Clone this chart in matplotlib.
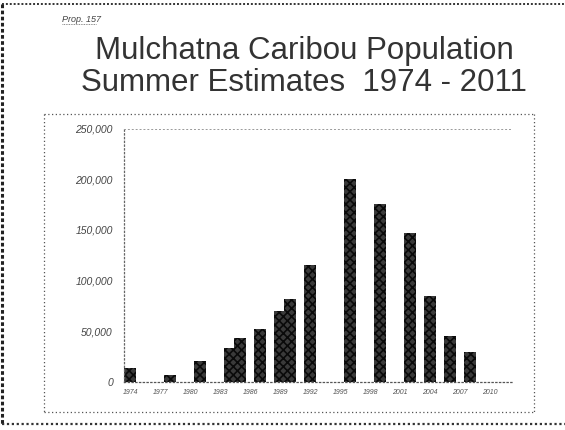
import numpy as np
import matplotlib
matplotlib.use('Agg')
import matplotlib.pyplot as plt
from matplotlib.lines import Line2D

# Mulchatna caribou summer population estimates
years = [1974, 1978, 1981, 1984, 1985, 1987, 1989, 1990, 1992,
         1996, 1999, 2002, 2004, 2006, 2008]
counts = [14000, 7000, 21000, 34000, 43000, 52000, 70000, 82000, 115000,
          200000, 176000, 147000, 85000, 45000, 30000]
year_ticks = list(range(1974, 2011, 3))
count_ticks = [0, 50000, 100000, 150000, 200000, 250000]

plt.rcParams['font.family'] = ['Liberation Sans', 'DejaVu Sans']
plt.rcParams['hatch.linewidth'] = 1.2

W, H = 565, 430
fig = plt.figure(figsize=(W / 100, H / 100), dpi=100)

def fx(px):
    return px / W

def fy(py):
    return 1 - py / H

def dotted(x0, y0, x1, y1, lw=1.0, color='#555555', dash=(1, 2)):
    ln = Line2D([fx(x0), fx(x1)], [fy(y0), fy(y1)], transform=fig.transFigure,
                color=color, lw=lw, linestyle=(0, dash))
    fig.add_artist(ln)

# outer page border (left, top, bottom)
dotted(2, 4, 2, 424, lw=2.2, color='#222222', dash=(1.2, 0.8))
dotted(2, 4, 565, 4, lw=1.4, color='#333333', dash=(1, 1))
dotted(2, 424, 565, 424, lw=1.6, color='#333333', dash=(1, 1.2))

# chart frame
dotted(44, 114, 534, 114, lw=0.9)
dotted(44, 114, 44, 412, lw=0.9)
dotted(44, 412, 534, 412, lw=0.9)
dotted(534, 114, 534, 412, lw=0.9)

# header
fig.text(fx(62), fy(22), 'Prop. 157', fontsize=6.5, color='#444444',
         style='italic', va='baseline')
dotted(62, 24, 96, 24, lw=0.6, color='#666666', dash=(1, 1))
fig.text(fx(304), fy(59), 'Mulchatna Caribou Population', fontsize=22.5,
         color='#333333', ha='center', va='baseline')
fig.text(fx(304), fy(91), 'Summer Estimates  1974 - 2011', fontsize=22.5,
         color='#333333', ha='center', va='baseline')

ax = fig.add_axes([fx(124), fy(382), fx(512) - fx(124), fy(128.5) - fy(382)])
ax.bar(years, counts, width=1.2, color='#3a3a3a', edgecolor='#0a0a0a',
       hatch='xxxx', linewidth=0)

ax.set_xlim(1973.37, 2012.2)
ax.set_ylim(0, 250000)
ax.set_xticks(year_ticks)
ax.set_xticklabels([str(y) for y in year_ticks], fontsize=5, color='#555555',
                   style='italic')
ax.set_yticks(count_ticks)
ax.set_yticklabels([f'{v:,}' for v in count_ticks], fontsize=7.5, color='#444444',
                   style='italic')
ax.tick_params(axis='both', length=0, pad=5)
ax.tick_params(axis='y', pad=8)

ax.spines['right'].set_visible(False)
ax.spines['left'].set_linestyle((0, (1, 2)))
ax.spines['left'].set_color('#666666')
ax.spines['left'].set_linewidth(0.9)
ax.spines['bottom'].set_linestyle((0, (1, 2)))
ax.spines['bottom'].set_color('#555555')
ax.spines['bottom'].set_linewidth(0.9)
ax.spines['top'].set_linestyle((0, (1, 3)))
ax.spines['top'].set_color('#999999')
ax.spines['top'].set_linewidth(0.7)
ax.patch.set_alpha(0)

fig.savefig('out.png', dpi=100)
